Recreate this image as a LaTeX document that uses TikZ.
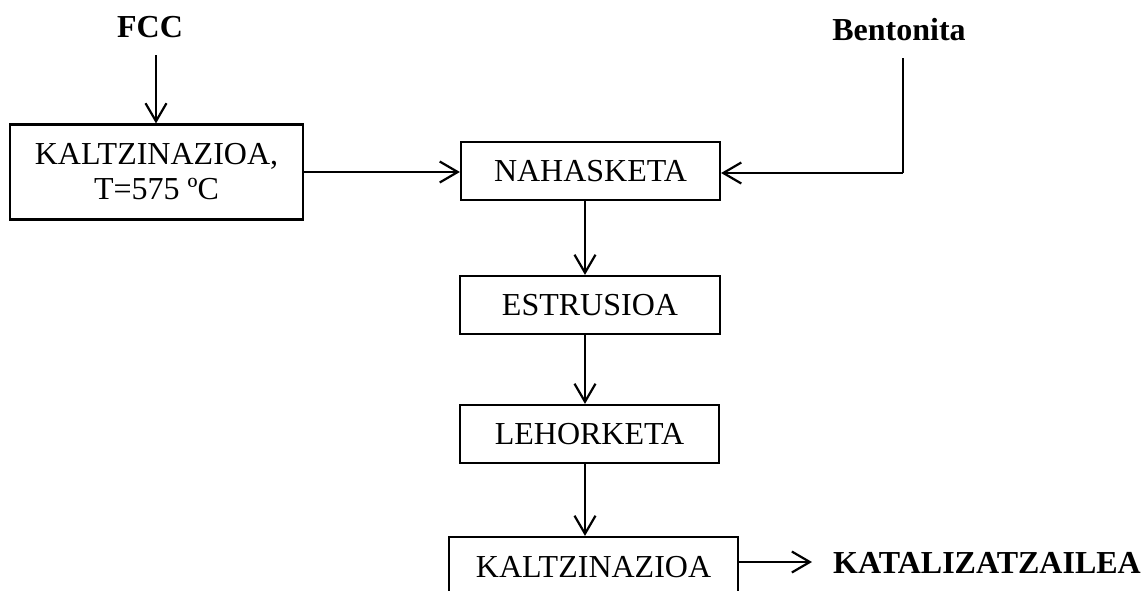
\documentclass[tikz,border=0pt]{standalone}
\usepackage{fontspec}
\setmainfont{Liberation Serif}
\usetikzlibrary{arrows.meta}
\begin{document}
\begin{tikzpicture}[x=1pt,y=-1pt,
  every node/.style={font=\fontsize{32}{35}\selectfont},
  box/.style={draw,line width=2.2pt,inner sep=0pt,align=center},
  lbl/.style={font=\fontsize{32}{35}\selectfont\bfseries,inner sep=0pt},
  arr/.style={line width=2.2pt,-{Straight Barb[length=18pt,width=21pt,line width=2.2pt]}},
  ln/.style={line width=2.2pt}]
\useasboundingbox (0,0) rectangle (1148,590);
\node[lbl] (fcc) at (150,27) {FCC};
\node[lbl] (ben) at (899,30) {Bentonita};
\node[box,minimum width=293pt,minimum height=95pt] (kal1) at (156.5,172) {KALTZINAZIOA,\\T=575 ºC};
\node[box,minimum width=259pt,minimum height=58pt] (nah) at (590.5,171) {NAHASKETA};
\node[box,minimum width=260pt,minimum height=58pt] (est) at (590,305) {ESTRUSIOA};
\node[box,minimum width=259pt,minimum height=58pt] (leh) at (589.5,434) {LEHORKETA};
\node[box,minimum width=289pt,minimum height=60pt] (kal2) at (593.5,567) {KALTZINAZIOA};
\node[lbl,anchor=west] (kat) at (833,563) {KATALIZATZAILEA};
\coordinate (fcctop) at (156,55);
\coordinate (bentop) at (903,58);
\coordinate (bencor) at (903,173);
\coordinate (ax) at (585,0);
\coordinate (katend) at (812,562);
\draw[arr] (fcctop) -- (fcctop |- kal1.north);
\draw[arr] (kal1.east) -- (nah.west |- kal1.east);
\draw[ln] (bentop) -- (bencor);
\draw[arr] (bencor) -- (nah.east |- bencor);
\draw[arr] (nah.south -| ax) -- (est.north -| ax);
\draw[arr] (est.south -| ax) -- (leh.north -| ax);
\draw[arr] (leh.south -| ax) -- (kal2.north -| ax);
\draw[arr] (kal2.east |- katend) -- (katend);
\end{tikzpicture}
\end{document}
